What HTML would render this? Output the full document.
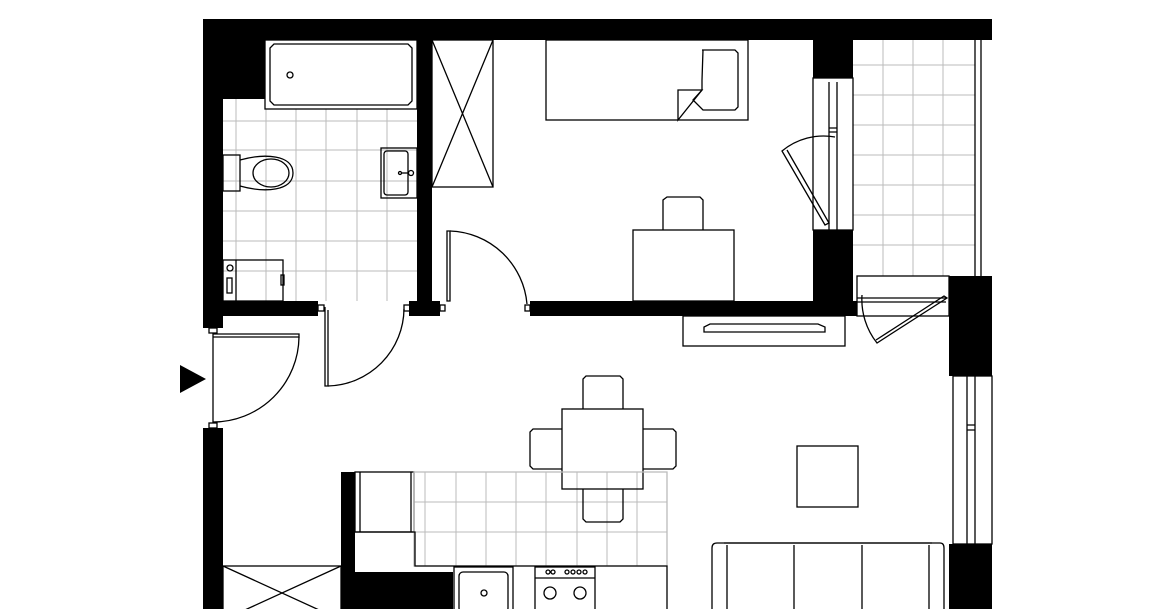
<!DOCTYPE html>
<html><head><meta charset="utf-8"><style>html,body{margin:0;padding:0;background:#fff}svg{display:block}</style></head>
<body>
<svg width="1169" height="609" viewBox="0 0 1169 609" xmlns="http://www.w3.org/2000/svg">
<g stroke="#bbb" stroke-width="1" fill="none">
<!-- bathroom tiles -->
<path d="M236 99V301M266 109V301M296 109V301M326 109V301M357 109V301M387 109V301M223 121H417M223 150H417M223 181H417M223 211H417M223 241H417M223 271H417"/>
<!-- balcony tiles -->
<path d="M883 40V276M913 40V276M943 40V276M853 65H975M853 95H975M853 125H975M853 155H975M853 185H975M853 215H975M853 245H975"/>
<!-- kitchen tiles -->
<path d="M425 472V566M456 472V566M486 472V566M516 472V566M546 472V566M577 472V566M607 472V566M637 472V566M414 502H667M414 532H667"/>
</g>
<g fill="#000">
<rect x="203" y="19" width="789" height="21"/>
<rect x="203" y="19" width="20" height="309"/>
<rect x="203" y="19" width="62" height="80"/>
<rect x="417" y="40" width="15" height="276"/>
<rect x="203" y="301" width="115" height="15"/>
<rect x="409" y="301" width="31" height="15"/>
<rect x="530" y="301" width="327" height="15"/>
<rect x="813" y="40" width="40" height="38"/>
<rect x="813" y="230" width="40" height="86"/>
<rect x="949" y="276" width="43" height="100"/>
<rect x="949" y="544" width="43" height="65"/>
<rect x="203" y="428" width="20" height="181"/>
<rect x="341" y="472" width="14" height="137"/>
<rect x="341" y="572" width="112" height="37"/>
<polygon points="180,365 206,379 180,393"/>
</g>
<g stroke="#000" stroke-width="1.3" fill="none">
<!-- bathtub -->
<rect x="265" y="40" width="152" height="69"/>
<path d="M274 44H408L412 48V101L408 105H274L270 101V48Z"/>
<circle cx="290" cy="75" r="3"/>
<!-- toilet -->
<rect x="223" y="155" width="17" height="36"/>
<path d="M240 160C265 153 293 155 293 173C293 191 265 193 240 186"/>
<ellipse cx="271" cy="173" rx="18" ry="14"/>
<!-- sink -->
<rect x="381" y="148" width="36" height="50"/>
<rect x="384" y="151" width="24" height="44" rx="3"/>
<circle cx="400" cy="173" r="1.5"/><circle cx="411" cy="173" r="2.5"/><path d="M402 173H408"/>
<!-- washer -->
<rect x="223" y="260" width="60" height="41"/>
<path d="M236 260V301"/><circle cx="230" cy="268" r="3"/><rect x="227" y="278" width="5" height="15"/><rect x="281" y="275" width="3" height="10"/>
<!-- wardrobe -->
<rect x="432" y="40" width="61" height="147"/>
<path d="M432 40L493 187M493 40L432 187"/>
<!-- bed -->
<rect x="546" y="40" width="202" height="80"/>
<path d="M702 50H735L738 53V107L735 110H703L693 100L702 90V80L703 50"/>
<path d="M678 90H702L678 120Z"/>
<!-- desk & chair -->
<rect x="633" y="230" width="101" height="71"/>
<path d="M663 230V200L667 197H700L703 200V230"/>
<!-- bedroom window -->
<rect x="813" y="78" width="40" height="152"/>
<path d="M829 82V230M837 82V230M829 128H837M829 132H837"/>
<path d="M835 137A65 65 0 0 0 782 151L825 225L829 223L787 150"/>
<!-- balcony edge -->
<path d="M975 40V276M981 40V276"/>
<!-- balcony door -->
<rect x="857" y="276" width="92" height="40"/>
<path d="M857 298H946M857 302H946"/>
<path d="M862 295A70 70 0 0 0 877 343L947 298L944 296L876 340"/>
<!-- radiator -->
<rect x="683" y="316" width="162" height="30"/>
<path d="M710 324H818L825 327V332H704V327Z"/>
<!-- entry door -->
<rect x="209" y="328" width="8" height="5"/>
<rect x="209" y="423" width="8" height="5"/>
<path d="M213 333V423"/>
<path d="M213 334H299V337H213"/>
<path d="M299 337A86 86 0 0 1 213 422"/>
<!-- bathroom door -->
<rect x="318" y="305" width="6" height="6"/><rect x="404" y="305" width="6" height="6"/>
<path d="M325 307V386H328V310"/>
<path d="M328 386A78 78 0 0 0 404 309"/>
<!-- bedroom door -->
<rect x="440" y="305" width="5" height="6"/><rect x="525" y="305" width="5" height="6"/>
<path d="M447 231V301H450V231Z"/>
<path d="M450 231A80 80 0 0 1 527 304"/>
<!-- dining -->
<rect x="562" y="409" width="81" height="80"/>
<path d="M583 409V379L586 376H620L623 379V409"/>
<path d="M583 489V519L586 522H620L623 519V489"/>
<path d="M562 429H533L530 432V466L533 469H562"/>
<path d="M643 429H673L676 432V466L673 469H643"/>
<!-- kitchen -->
<rect x="355" y="472" width="59" height="60"/>
<path d="M360 472V532M411 472V532"/>
<path d="M414 472H667V566H414Z" stroke="#bbb"/>
<path d="M355 532H415V566H453M453 566H667V609"/>
<rect x="454" y="567" width="59" height="45"/>
<rect x="459" y="572" width="49" height="40" rx="4"/>
<circle cx="484" cy="593" r="3"/>
<rect x="535" y="567" width="60" height="45"/>
<path d="M535 578H595"/>
<circle cx="548" cy="572" r="2"/><circle cx="553" cy="572" r="2"/><circle cx="567" cy="572" r="2"/><circle cx="573" cy="572" r="2"/><circle cx="579" cy="572" r="2"/><circle cx="585" cy="572" r="2"/>
<circle cx="550" cy="593" r="6"/><circle cx="580" cy="593" r="6"/>
<!-- closet -->
<rect x="223" y="566" width="118" height="50"/>
<path d="M223 566L341 620M341 566L223 620"/>
<!-- coffee table -->
<rect x="797" y="446" width="61" height="61"/>
<!-- sofa -->
<path d="M712 620V548Q712 543 717 543H940Q944 543 944 548V620"/>
<path d="M727 545V620M794 545V620M862 545V620M929 545V620M724 543H932"/>
<!-- right window -->
<rect x="953" y="376" width="39" height="168"/>
<path d="M967 376V544M975 376V544M967 425H975M967 430H975"/>
</g>
</svg>
</body></html>
